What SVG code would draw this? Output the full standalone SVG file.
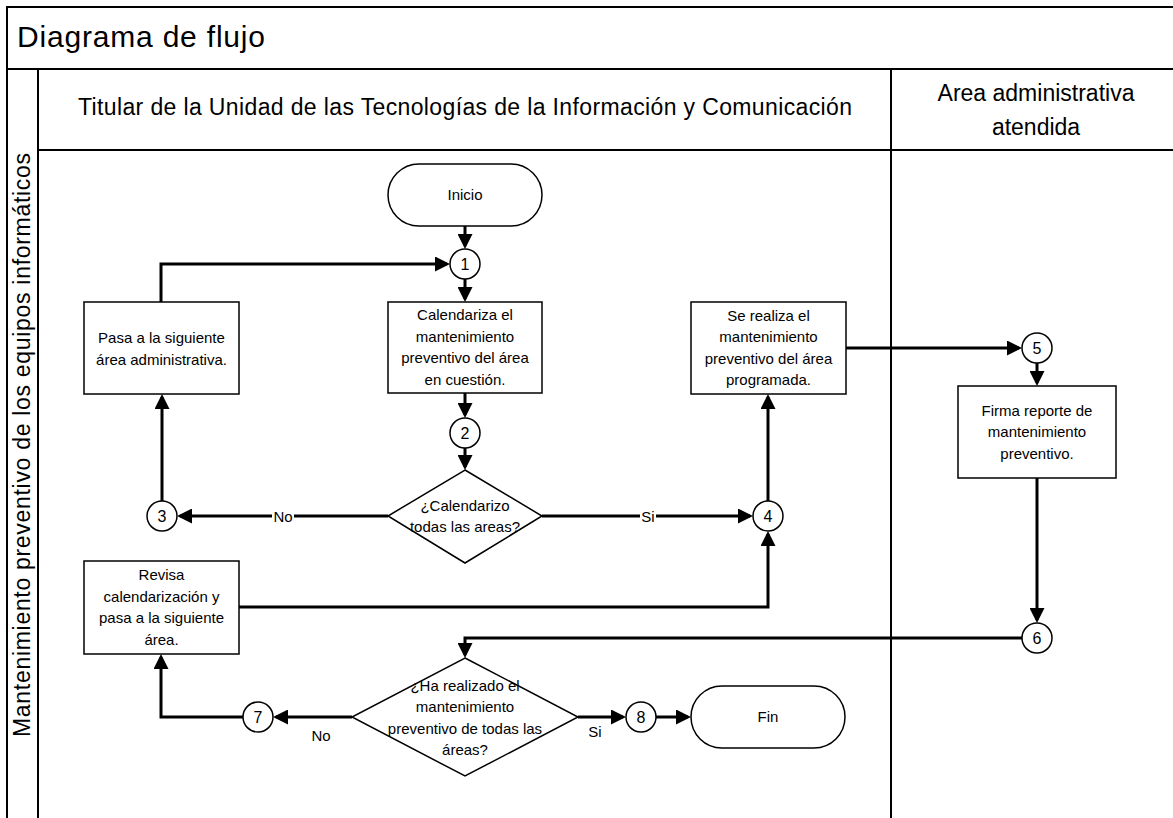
<svg xmlns="http://www.w3.org/2000/svg" width="1173" height="818" viewBox="0 0 1173 818">
<style>
text{font-family:"Liberation Sans",Arial,sans-serif;fill:#000}
.frame{fill:none;stroke:#000;stroke-width:2}
.box{fill:#fff;stroke:#000;stroke-width:1.5}
.conn{fill:none;stroke:#000;stroke-width:3}
.nt{font-size:15px;text-anchor:middle}
.num{font-size:16px;text-anchor:middle}
.lbl{font-size:15px;text-anchor:middle}
.hdr{font-size:23px;text-anchor:middle}
</style>
<defs>
<marker id="arr" markerUnits="userSpaceOnUse" markerWidth="15" markerHeight="15" viewBox="0 0 15 15" refX="12" refY="7.5" orient="auto">
<path d="M0,0 L15,7.5 L0,15 z" fill="#000"/>
</marker>
</defs>
<rect width="1173" height="818" fill="#fff"/>
<g id="pool">
<path class="frame" d="M7,818 V7 H1175 M7,69 H1175 M38,69 V818 M38,150 H1175 M891,69 V818"/>
<text x="17" y="47" font-size="30" textLength="248">Diagrama de flujo</text>
<text class="hdr" x="465" y="115" textLength="774">Titular de la Unidad de las Tecnologías de la Información y Comunicación</text>
<text class="hdr" x="1036" y="101">Area administrativa</text>
<text class="hdr" x="1036" y="135">atendida</text>
<text transform="translate(30,445) rotate(-90)" font-size="23" text-anchor="middle" textLength="584">Mantenimiento preventivo de los equipos informáticos</text>
</g>
<g id="connectors">
<path class="conn" d="M465,226 V246" marker-end="url(#arr)"/>
<path class="conn" d="M465,279 V299" marker-end="url(#arr)"/>
<path class="conn" d="M465,393 V415" marker-end="url(#arr)"/>
<path class="conn" d="M465,448 V467" marker-end="url(#arr)"/>
<path class="conn" d="M388,516 H180" marker-end="url(#arr)"/>
<path class="conn" d="M542,516 H750" marker-end="url(#arr)"/>
<path class="conn" d="M162,501 V397" marker-end="url(#arr)"/>
<path class="conn" d="M161,302 V264 H447" marker-end="url(#arr)"/>
<path class="conn" d="M768,501 V397" marker-end="url(#arr)"/>
<path class="conn" d="M239,607 H768 V534" marker-end="url(#arr)"/>
<path class="conn" d="M846,348 H1019" marker-end="url(#arr)"/>
<path class="conn" d="M1037,363 V383" marker-end="url(#arr)"/>
<path class="conn" d="M1037,478 V620" marker-end="url(#arr)"/>
<path class="conn" d="M1022,638 H465 V655" marker-end="url(#arr)"/>
<path class="conn" d="M352,717 H276" marker-end="url(#arr)"/>
<path class="conn" d="M243,717 H161 V657" marker-end="url(#arr)"/>
<path class="conn" d="M578,717 H623" marker-end="url(#arr)"/>
<path class="conn" d="M656,717 H688" marker-end="url(#arr)"/>
<rect x="272" y="508" width="22" height="17" fill="#fff"/>
<text class="lbl" x="283" y="522">No</text>
<rect x="640" y="508" width="16" height="17" fill="#fff"/>
<text class="lbl" x="648" y="522">Si</text>
<text class="lbl" x="321" y="741">No</text>
<text class="lbl" x="595" y="737">Si</text>
</g>
<g id="inicio">
<rect class="box" x="388" y="164" width="154" height="62" rx="31" ry="31"/>
<text class="nt" x="465" y="200">Inicio</text>
</g>
<g id="c1"><circle class="box" cx="465" cy="264" r="15"/><text class="num" x="465" y="269.5">1</text></g>
<g id="calendariza">
<rect class="box" x="388" y="302" width="154" height="91"/>
<text class="nt" x="465" y="320">Calendariza el</text>
<text class="nt" x="465" y="342">mantenimiento</text>
<text class="nt" x="465" y="363">preventivo del área</text>
<text class="nt" x="465" y="385">en cuestión.</text>
</g>
<g id="c2"><circle class="box" cx="465" cy="433" r="15"/><text class="num" x="465" y="438.5">2</text></g>
<g id="decision1">
<polygon class="box" points="465,470 542,516 465,563 388,516"/>
<text class="nt" x="465" y="511">¿Calendarizo</text>
<text class="nt" x="465" y="532">todas las areas?</text>
</g>
<g id="c3"><circle class="box" cx="162" cy="516" r="15"/><text class="num" x="162" y="521.5">3</text></g>
<g id="c4"><circle class="box" cx="768" cy="516" r="15"/><text class="num" x="768" y="521.5">4</text></g>
<g id="pasa">
<rect class="box" x="84" y="302" width="155" height="92"/>
<text class="nt" x="161.5" y="343">Pasa a la siguiente</text>
<text class="nt" x="161.5" y="365">área administrativa.</text>
</g>
<g id="realiza">
<rect class="box" x="691" y="302" width="155" height="92"/>
<text class="nt" x="768.5" y="321">Se realiza el</text>
<text class="nt" x="768.5" y="342">mantenimiento</text>
<text class="nt" x="768.5" y="364">preventivo del área</text>
<text class="nt" x="768.5" y="385">programada.</text>
</g>
<g id="c5"><circle class="box" cx="1037" cy="348" r="15"/><text class="num" x="1037" y="353.5">5</text></g>
<g id="firma">
<rect class="box" x="958" y="386" width="158" height="92"/>
<text class="nt" x="1037" y="416">Firma reporte de</text>
<text class="nt" x="1037" y="437">mantenimiento</text>
<text class="nt" x="1037" y="459">preventivo.</text>
</g>
<g id="c6"><circle class="box" cx="1037" cy="638" r="15"/><text class="num" x="1037" y="643.5">6</text></g>
<g id="revisa">
<rect class="box" x="84" y="561" width="155" height="93"/>
<text class="nt" x="161.5" y="580">Revisa</text>
<text class="nt" x="161.5" y="602">calendarización y</text>
<text class="nt" x="161.5" y="623">pasa a la siguiente</text>
<text class="nt" x="161.5" y="645">área.</text>
</g>
<g id="decision2">
<polygon class="box" points="465,658 578,717 465,776 352,717"/>
<text class="nt" x="465" y="691">¿Ha realizado el</text>
<text class="nt" x="465" y="712">mantenimiento</text>
<text class="nt" x="465" y="734">preventivo de todas las</text>
<text class="nt" x="465" y="755">áreas?</text>
</g>
<g id="c7"><circle class="box" cx="258" cy="717" r="15"/><text class="num" x="258" y="722.5">7</text></g>
<g id="c8"><circle class="box" cx="641" cy="717" r="15"/><text class="num" x="641" y="722.5">8</text></g>
<g id="fin">
<rect class="box" x="691" y="686" width="154" height="62" rx="31" ry="31"/>
<text class="nt" x="768" y="722">Fin</text>
</g>
</svg>
